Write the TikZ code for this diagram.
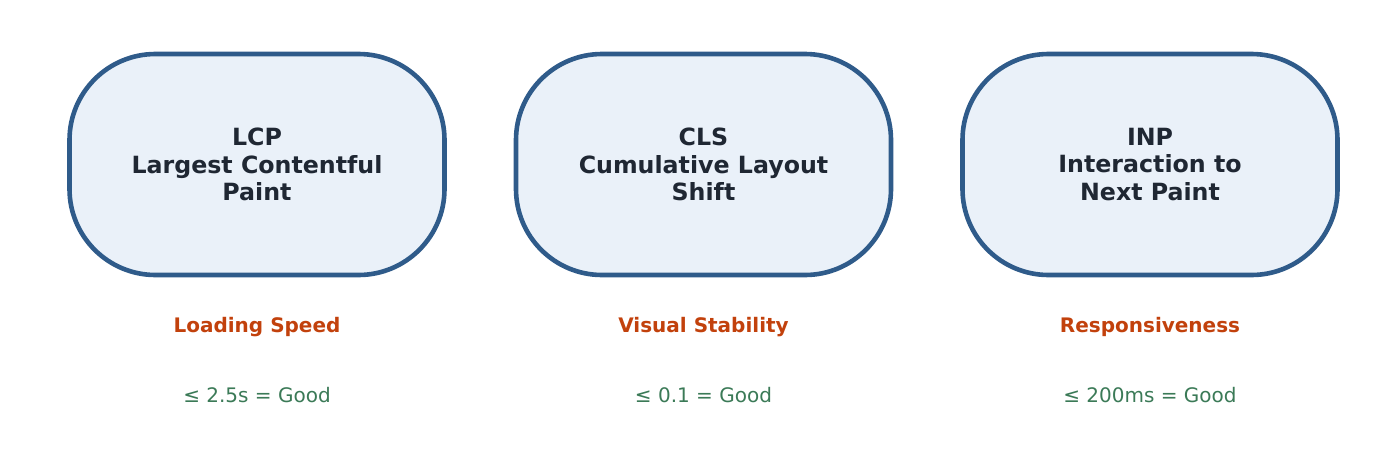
\documentclass[tikz,border=0pt]{standalone}
\usepackage{fontspec}
\setmainfont{DejaVu Sans}
\begin{document}
\begin{tikzpicture}[x=1pt,y=-1pt,
  metric/.style={draw=boxblue,fill=boxfill,line width=4.6pt,rounded corners=86pt,
    minimum width=375pt,minimum height=221pt,align=center,text=titletext,
    font=\fontsize{23.7}{27.5}\selectfont\bfseries,inner sep=0pt},
  aspect/.style={text=aspectcol,font=\fontsize{20}{24}\selectfont\bfseries,inner sep=0pt},
  goal/.style={text=goalcol,font=\fontsize{20}{24}\selectfont,inner sep=0pt}]
\definecolor{boxblue}{HTML}{2F5B8A}
\definecolor{boxfill}{HTML}{EAF1F9}
\definecolor{titletext}{HTML}{1F2733}
\definecolor{aspectcol}{HTML}{C2410C}
\definecolor{goalcol}{HTML}{3B7A57}
\useasboundingbox (0,0) rectangle (1379,469);
\node[metric] (lcp) at (257,164.5) {LCP\\Largest Contentful\\Paint};
\node[metric] (cls) at (703.5,164.5) {CLS\\Cumulative Layout\\Shift};
\node[metric] (inp) at (1150,164.5) {INP\\Interaction to\\Next Paint};
\node[aspect] (lcpa) at (257,327) {Loading Speed};
\node[aspect] (clsa) at (703.5,327) {Visual Stability};
\node[aspect] (inpa) at (1150,327) {Responsiveness};
\node[goal] (lcpg) at (257,395.5) {≤ 2.5s = Good};
\node[goal] (clsg) at (703.5,395.5) {≤ 0.1 = Good};
\node[goal] (inpg) at (1150,395.5) {≤ 200ms = Good};
\end{tikzpicture}
\end{document}
